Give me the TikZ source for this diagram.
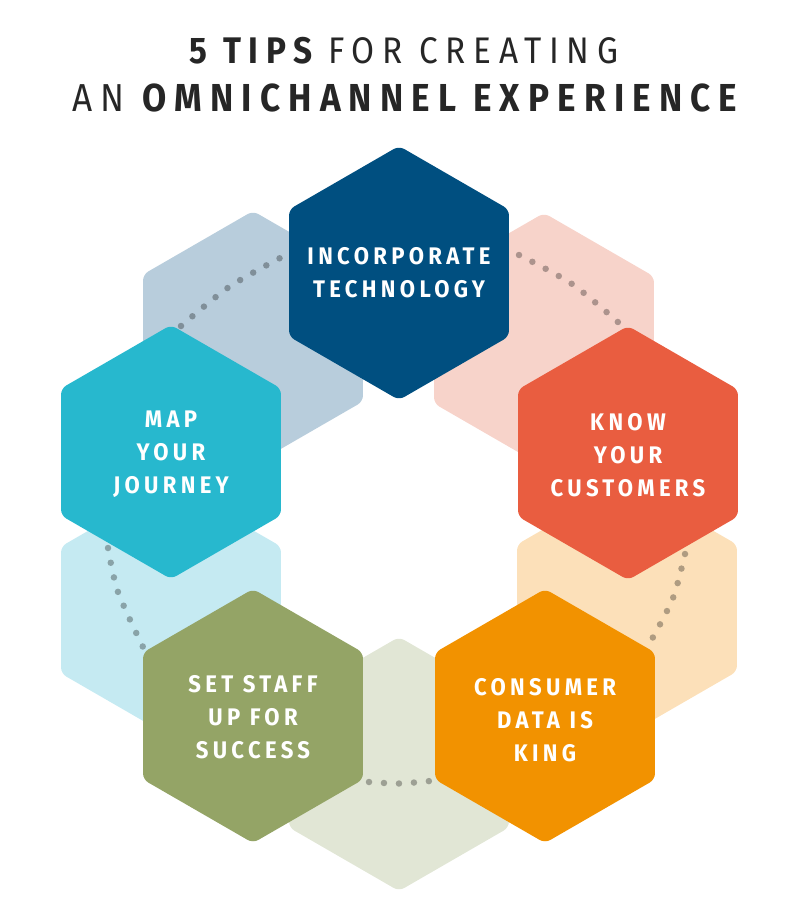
\documentclass[tikz,border=0pt]{standalone}
\usepackage{fontspec}
\setmainfont{Fira Sans}
\newfontfamily\titlefont[FakeStretch=0.9,LetterSpace=21]{Fira Sans}
\newfontfamily\labelfont[FakeStretch=0.92,LetterSpace=18]{Fira Sans}
\usetikzlibrary{shapes.geometric}
\definecolor{cTech}{HTML}{004F80}
\definecolor{cKnow}{HTML}{E95D40}
\definecolor{cCons}{HTML}{F29200}
\definecolor{cStaff}{HTML}{94A466}
\definecolor{cMap}{HTML}{27B8CE}
\definecolor{pBlue}{HTML}{B8CDDC}
\definecolor{pPink}{HTML}{F7D3CA}
\definecolor{pPeach}{HTML}{FCE0B9}
\definecolor{pGreen}{HTML}{E1E6D5}
\definecolor{pCyan}{HTML}{C5EAF2}
\definecolor{titlegray}{HTML}{262626}
\tikzset{
  hexbase/.style={regular polygon, regular polygon sides=6, shape border rotate=30,
    minimum size=254, inner sep=0, rounded corners=6, draw=none},
  mainhex/.style={hexbase, fill=#1},
  palehex/.style={hexbase, fill=#1},
  hexlabel/.style={text=white, align=center, inner sep=0,
    font=\labelfont\bfseries\fontsize{24}{33}\selectfont},
  dotline/.style={draw=black, draw opacity=0.3, line width=6.5, line cap=round,
    dash pattern=on 0pt off 15},
  titletext/.style={anchor=base, text=titlegray, inner sep=0}
}
\begin{document}
\begin{tikzpicture}[x=1pt,y=-1pt]
\useasboundingbox (0,0) rectangle (795,915);
% title
\node[titletext, font=\titlefont\fontsize{37}{40}\selectfont] (t1) at (404,64)
  {\bfseries 5 TIPS \mdseries FOR CREATING};
\node[titletext, font=\titlefont\fontsize{39}{44}\selectfont] (t2) at (405,112)
  {AN \bfseries OMNICHANNEL EXPERIENCE};
% pale hexagons
\node[palehex=pBlue]  (pb) at (253,338) {};
\node[palehex=pPink]  (pp) at (544,340) {};
\node[palehex=pPeach] (pe) at (627,608) {};
\node[palehex=pGreen] (pg) at (399,764) {};
\node[palehex=pCyan]  (pc) at (171,610) {};
% dotted arcs
\draw[dotline] plot[smooth] coordinates {(181,326) (229,287) (282,257)};
\draw[dotline] plot[smooth] coordinates {(519,255) (572,284) (619,323)};
\draw[dotline] plot[smooth] coordinates {(685,554) (673,598) (652,639)};
\draw[dotline] plot[smooth] coordinates {(369,782) (399,783.5) (430,781)};
\draw[dotline] plot[smooth] coordinates {(108,548) (118,592) (143,647)};
% main hexagons
\node[mainhex=cTech]  (tech)  at (399,273) {};
\node[mainhex=cKnow]  (know)  at (628,453) {};
\node[mainhex=cCons]  (cons)  at (545,716) {};
\node[mainhex=cStaff] (staff) at (253,716) {};
\node[mainhex=cMap]   (map)   at (171,452) {};
% labels
\node[hexlabel] (techL)  at (tech.center)  {INCORPORATE\\TECHNOLOGY};
\node[hexlabel] (knowL)  at ([yshift=-2]know.center)  {KNOW\\YOUR\\CUSTOMERS};
\node[hexlabel] (consL)  at ([yshift=-4]cons.center)  {CONSUMER\\DATA IS\\KING};
\node[hexlabel] (staffL) at ([yshift=-1]staff.center) {SET STAFF\\UP FOR\\SUCCESS};
\node[hexlabel] (mapL)   at ([yshift=-2]map.center)   {MAP\\YOUR\\JOURNEY};
\end{tikzpicture}
\end{document}
